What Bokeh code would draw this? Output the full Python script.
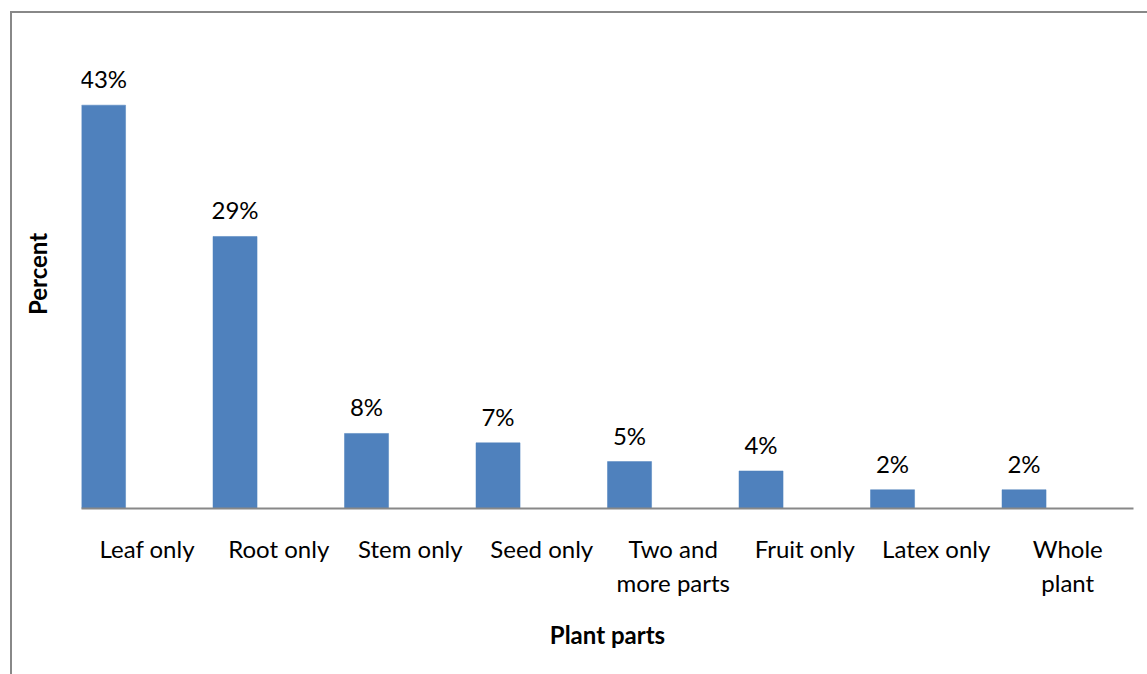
from bokeh.plotting import figure
from bokeh.models import Range1d, FixedTicker, ColumnDataSource
from bokeh.core.properties import value
from bokeh.embed import file_html
from bokeh.resources import INLINE

categories = ["Leaf only", "Root only", "Stem only", "Seed only",
              "Two and\nmore parts", "Fruit only", "Latex only", "Whole\nplant"]
percent = [43, 29, 8, 7, 5, 4, 2, 2]
bar_labels = [f"{v}%" for v in percent]

FONT = "Lato"
FS = "24px"
BAR_W = 0.335
idx = list(range(len(categories)))

src = ColumnDataSource(dict(
    x=[i + BAR_W / 2 for i in idx],
    top=percent,
    label=bar_labels,
))

p = figure(width=1137, height=663, output_backend="svg", toolbar_location=None,
           x_range=Range1d(0, len(categories)), y_range=Range1d(0, 50),
           min_border_left=69, min_border_right=16, min_border_top=26,
           min_border_bottom=168)
p.margin = (11, 0, 0, 10)
p.styles = {"border-left": "2px solid #888888", "border-top": "2px solid #888888"}
p.outline_line_color = None
p.xgrid.visible = False
p.ygrid.visible = False
p.background_fill_color = "white"
p.border_fill_color = "white"

p.vbar(x="x", top="top", width=BAR_W, bottom=0, source=src,
       fill_color="#4F81BD", line_color="#4F81BD", line_width=0.5)
p.text(x="x", y="top", text="label", source=src, text_align="center",
       text_baseline="bottom", y_offset=-12, text_font=value(FONT),
       text_font_size=FS, text_color="black")

# x axis
p.xaxis.ticker = FixedTicker(ticks=[i + 0.5 for i in idx])
p.xaxis.major_label_overrides = {i + 0.5: c for i, c in zip(idx, categories)}
p.xaxis.axis_line_color = "#888888"
p.xaxis.axis_line_width = 2
p.xaxis.major_tick_line_color = None
p.xaxis.minor_tick_line_color = None
p.xaxis.major_label_standoff = 19
p.xaxis.major_label_text_font = FONT
p.xaxis.major_label_text_font_size = FS
p.xaxis.major_label_text_color = "black"
p.xaxis.axis_label = "Plant parts"
p.xaxis.axis_label_text_font = FONT
p.xaxis.axis_label_text_font_size = FS
p.xaxis.axis_label_text_font_style = "bold"
p.xaxis.axis_label_text_color = "black"
p.xaxis.axis_label_standoff = 20

# y axis: only the title
p.yaxis.ticker = FixedTicker(ticks=[])
p.yaxis.axis_line_color = None
p.yaxis.major_tick_line_color = None
p.yaxis.minor_tick_line_color = None
p.yaxis.major_label_standoff = 0
p.yaxis.axis_label = "Percent"
p.yaxis.axis_label_text_font = FONT
p.yaxis.axis_label_text_font_size = FS
p.yaxis.axis_label_text_font_style = "bold"
p.yaxis.axis_label_text_color = "black"
p.yaxis.axis_label_standoff = 30

open("out.html", "w").write(file_html(p, INLINE))
